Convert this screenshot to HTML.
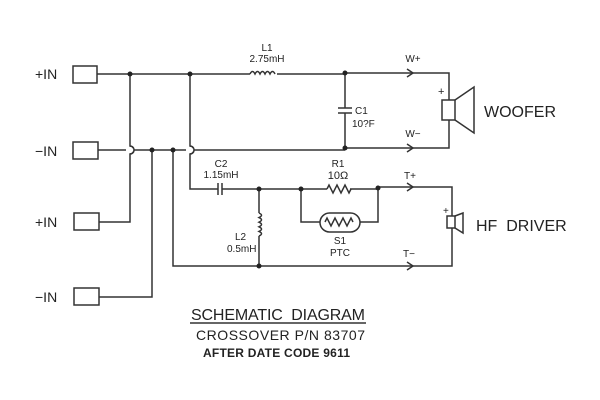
<!DOCTYPE html>
<html><head><style>
body{margin:0;background:#fff}
svg{display:block}
text{font-family:"Liberation Sans",sans-serif;fill:#222}
</style></head><body>
<svg width="600" height="400" viewBox="0 0 600 400" stroke="#333" stroke-width="1.5" fill="none">
<rect x="73" y="66" width="24" height="17"/>
<rect x="73" y="142" width="25" height="17"/>
<rect x="74" y="213" width="25" height="17"/>
<rect x="74" y="288" width="25" height="17"/>
<g stroke="none" font-size="14">
<text x="35" y="79">+IN</text><text x="35" y="156">−IN</text>
<text x="35" y="227">+IN</text><text x="35" y="302">−IN</text>
</g>
<path d="M97 74 H250 M277 74 H345"/>
<path d="M250 74 q2.5 -5 5 0 q2.5 -5 5 0 q2.5 -5 5 0 q2.5 -5 5 0 q2.5 -5 5 0"/>
<path d="M345 73 H449 V148 H345"/>
<path d="M98 150 H345"/>
<path d="M130 74 V146 a4 4 0 0 1 0 8 V222 H99"/>
<path d="M190 74 V146 a4 4 0 0 1 0 8 V189 H218"/>
<path d="M152 150 V297 H99"/>
<path d="M173 150 V266 H452 V187 H378"/>
<path d="M126 150 h8 M186 150 h8" stroke="#fff" stroke-width="3"/>
<path d="M130 146 a4 4 0 0 1 0 8 M190 146 a4 4 0 0 1 0 8"/>
<path d="M218 183 V195 M222 183 V195 M222 189 H327 M350 189 H378"/>
<path d="M327 189 l2 -4 l4 8 l4 -8 l4 8 l4 -8 l4 8 l2 -4"/>
<path d="M259 189 V213 M259 236 V266"/>
<path d="M259 213 q5 2.3 0 4.6 q5 2.3 0 4.6 q5 2.3 0 4.6 q5 2.3 0 4.6 q5 2.3 0 4.6"/>
<path d="M301 189 V222 H320 M360 222 H378 V189"/>
<rect x="320" y="213" width="40" height="19" rx="9.5"/>
<path d="M325 222 l2 -4 l4 8 l4 -8 l4 8 l4 -8 l4 8 l4 -8 l2 4"/>
<path d="M345 73 V108 M338 108 H352 M338 113 H352 M345 113 V148"/>
<path d="M407 69 l6 4 l-6 4 M407 144 l6 4 l-6 4 M407 183 l6 4 l-6 4 M407 262 l6 4 l-6 4"/>
<rect x="442" y="100" width="13" height="20" fill="#fff"/>
<path d="M455 100 L474 87 V133 L455 120"/>
<rect x="447" y="216" width="8" height="12" fill="#fff"/>
<path d="M455 216 L463 213 V233 L455 228"/>
<g fill="#222" stroke="none">
<circle cx="130" cy="74" r="2.5"/><circle cx="190" cy="74" r="2.5"/>
<circle cx="345" cy="73" r="2.5"/><circle cx="345" cy="148" r="2.5"/>
<circle cx="152" cy="150" r="2.5"/><circle cx="173" cy="150" r="2.5"/>
<circle cx="259" cy="189" r="2.5"/><circle cx="301" cy="189" r="2.5"/>
<circle cx="378" cy="188" r="2.5"/><circle cx="259" cy="266" r="2.5"/>
</g>
<g stroke="none" font-size="10" text-anchor="middle">
<text x="267" y="51">L1</text><text x="267" y="62">2.75mH</text>
<text x="221" y="167">C2</text><text x="221" y="178">1.15mH</text>
<text x="338" y="167">R1</text><text x="338" y="179" font-size="11">10Ω</text>
<text x="340" y="244">S1</text><text x="340" y="256">PTC</text>
<text x="413" y="62">W+</text><text x="413" y="137">W−</text>
<text x="410" y="179">T+</text><text x="409" y="257">T−</text>
</g>
<g stroke="none" font-size="10">
<text x="355" y="114">C1</text><text x="352" y="127">10?F</text>
<text x="235" y="240">L2</text><text x="227" y="252">0.5mH</text>
<text x="438" y="95" font-size="11">+</text><text x="443" y="214" font-size="10">+</text>
</g>
<g stroke="none" font-size="16">
<text x="484" y="117">WOOFER</text><text x="476" y="231">HF&#160;&#160;DRIVER</text>
</g>
<g stroke="none">
<text x="191" y="320" font-size="16" textLength="174">SCHEMATIC&#160;&#160;DIAGRAM</text>
<text x="196" y="340" font-size="14" textLength="169">CROSSOVER P/N 83707</text>
<text x="203" y="357" font-size="12" font-weight="bold" textLength="147">AFTER DATE CODE 9611</text>
</g>
<path d="M190 323 H366"/>
</svg>
</body></html>
